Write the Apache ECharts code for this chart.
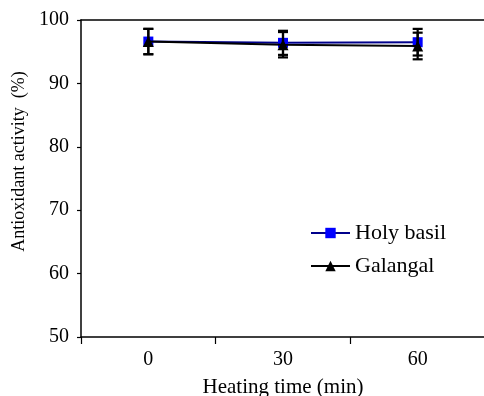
<!DOCTYPE html>
<html>
<head>
<meta charset="utf-8">
<script src="https://cdn.jsdelivr.net/npm/echarts@6/dist/echarts.min.js"></script>
<style>
  html, body { margin: 0; padding: 0; background: #fff; }
  #chart { width: 484px; height: 396px; }
</style>
</head>
<body>
<div id="chart"></div>
<script>
const categories = ["0", "30", "60"];
const holyBasil = [96.6, 96.4, 96.5];
const holyBasilErr = [2.0, 1.9, 2.1];
const galangal = [96.6, 96.1, 95.9];
const galangalErr = [2.0, 2.0, 2.1];
const yTicks = [50, 60, 70, 80, 90, 100];

const chart = echarts.init(document.getElementById("chart"));
const font = "Liberation Serif, Times New Roman, serif";

function errorSeries(name, means, errs) {
  return {
    name: name + " err",
    type: "custom",
    z: 5,
    data: means.map((m, i) => [i, m - errs[i], m + errs[i]]),
    renderItem: (params, api) => {
      const lo = api.coord([api.value(0), api.value(1)]);
      const hi = api.coord([api.value(0), api.value(2)]);
      const w = 5;
      const style = { stroke: "#000", lineWidth: 2.2 };
      return {
        type: "group",
        children: [
          { type: "line", shape: { x1: hi[0], y1: hi[1], x2: lo[0], y2: lo[1] }, style },
          { type: "line", shape: { x1: hi[0] - w, y1: hi[1], x2: hi[0] + w, y2: hi[1] }, style },
          { type: "line", shape: { x1: lo[0] - w, y1: lo[1], x2: lo[0] + w, y2: lo[1] }, style },
        ],
      };
    },
  };
}

const option = {
  animation: false,
  textStyle: { fontFamily: font },
  grid: { left: 81, top: 20, right: -1, bottom: 59, outerBoundsMode: "none", containLabel: false },
  legend: {
    orient: "vertical",
    left: 305,
    top: 217,
    itemWidth: 39,
    itemHeight: 13,
    itemGap: 11,
    textStyle: { fontFamily: font, fontSize: 22, color: "#000" },
    data: ["Holy basil", "Galangal"],
  },
  xAxis: [
    {
      type: "category",
      data: categories,
      boundaryGap: true,
      name: "Heating time (min)",
      nameLocation: "middle",
      nameGap: 40,
      nameTextStyle: { fontFamily: font, fontSize: 21, color: "#000" },
      axisLine: { lineStyle: { color: "#000", width: 1.5 } },
      axisTick: { show: true, length: 7, inside: false, lineStyle: { color: "#000", width: 1.2 } },
      axisLabel: { margin: 13, fontFamily: font, fontSize: 20, color: "#000" },
    },
    {
      type: "category",
      data: categories,
      position: "top",
      axisLine: { show: true, lineStyle: { color: "#000", width: 1.5 } },
      axisTick: { show: false },
      axisLabel: { show: false },
    },
  ],
  yAxis: {
    type: "value",
    min: yTicks[0],
    max: yTicks[yTicks.length - 1],
    interval: 10,
    name: "Antioxidant activity  (%)",
    nameLocation: "middle",
    nameGap: 51,
    nameTextStyle: { fontFamily: font, fontSize: 18, color: "#000", padding: [0, 0, 0, 34] },
    axisLine: { show: true, lineStyle: { color: "#000", width: 1.5 } },
    axisTick: { show: true, length: 4, lineStyle: { color: "#000", width: 1.2 } },
    axisLabel: { margin: 12, fontFamily: font, fontSize: 20, color: "#000" },
    splitLine: { show: false },
  },
  series: [
    {
      name: "Holy basil",
      type: "line",
      data: holyBasil,
      symbol: "rect",
      symbolSize: 10,
      z: 3,
      lineStyle: { color: "#00008b", width: 2 },
      itemStyle: { color: "#0000ff", borderWidth: 0 },
    },
    {
      name: "Galangal",
      type: "line",
      data: galangal,
      symbol: "triangle",
      symbolSize: 11,
      z: 4,
      lineStyle: { color: "#000", width: 2 },
      itemStyle: { color: "#000", borderWidth: 0 },
    },
    errorSeries("Holy basil", holyBasil, holyBasilErr),
    errorSeries("Galangal", galangal, galangalErr),
  ],
};

chart.setOption(option);
</script>
</body>
</html>
